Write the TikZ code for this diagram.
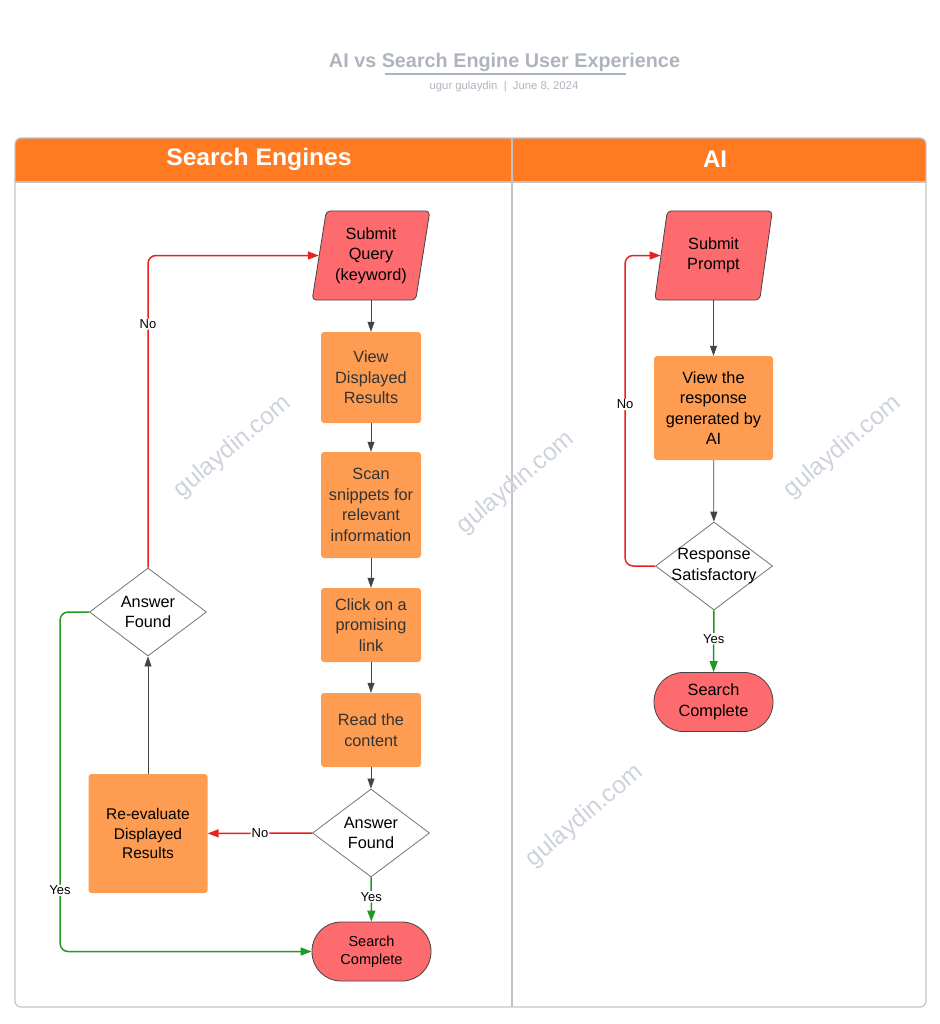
\documentclass[tikz,border=0pt]{standalone}
\usepackage{fontspec}
\setmainfont{Liberation Sans}
\usetikzlibrary{shapes.geometric,arrows.meta}
\definecolor{hdr}{HTML}{FF7A21}
\definecolor{pinkf}{HTML}{FD6B6E}
\definecolor{orgf}{HTML}{FE9D52}
\definecolor{framec}{HTML}{C4C4C4}
\definecolor{titlec}{HTML}{AEB4BE}
\definecolor{redl}{HTML}{E8211F}
\definecolor{greenl}{HTML}{1E9A1E}
\definecolor{greyl}{HTML}{444444}
\definecolor{wm}{HTML}{CDD2DB}
\definecolor{txtd}{HTML}{333333}
\tikzset{
  base/.style={align=center, inner sep=0pt, font=\fontsize{16.3}{20.5}\selectfont},
  para/.style={base, trapezium, trapezium left angle=78.6, trapezium right angle=101.4,
     trapezium stretches=true, minimum width=118pt, minimum height=89pt,
     draw=greyl, fill=pinkf, rounded corners=4pt, line width=0.8pt},
  obox/.style={base, rectangle, fill=orgf, rounded corners=3pt, text=txtd},
  dia/.style={diamond, draw=black!55, fill=white, line width=0.8pt, inner sep=0pt,
     minimum width=117pt, minimum height=88pt},
  stad/.style={base, rectangle, draw=greyl, fill=pinkf, line width=0.8pt,
     minimum width=119pt, minimum height=59pt, rounded corners=29pt},
  gar/.style={draw=greyl, line width=0.7pt, -{Triangle[width=7pt,length=10pt]}},
  rar/.style={draw=redl, line width=1.5pt, -{Triangle[width=8pt,length=11pt]}, rounded corners=8pt},
  gnar/.style={draw=greenl, line width=1.5pt, -{Triangle[width=8pt,length=11pt]}, rounded corners=8pt},
  lbl/.style={fill=white, inner sep=1pt, font=\fontsize{13}{15}\selectfont, text=black},
  wmk/.style={rotate=40, text=wm, font=\fontsize{24.5}{28}\selectfont}
}
\begin{document}
\begin{tikzpicture}[x=1pt,y=-1pt]
\useasboundingbox (0,0) rectangle (939,1024);
% title
\node[text=titlec, font=\bfseries\fontsize{19.8}{23}\selectfont] (title) at (504.5,62) {AI vs Search Engine User Experience};
\draw[titlec, line width=1.3pt] (385,74) -- (626,74);
\node[text=titlec, font=\fontsize{11.3}{13}\selectfont] (sub) at (504,86.5) {ugur gulaydin \ \textbar\ \ June 8, 2024};
% frame and header
\fill[hdr] (15,182) {[rounded corners=6pt] -- (15,138) -- (926,138)} -- (926,182) -- cycle;
\draw[framec, line width=1.2pt, rounded corners=6pt] (15,138) rectangle (926,1007);
\draw[framec, line width=1.2pt] (15,182) -- (926,182);
\draw[framec, line width=1.2pt] (512,138) -- (512,1007);
\node[text=white, font=\bfseries\fontsize{24}{28}\selectfont, xscale=1.03] (h1) at (259,159.5) {Search Engines};
\node[text=white, font=\bfseries\fontsize{24}{28}\selectfont] (h2) at (715,159.5) {AI};
% watermarks
\node[wmk] (w1) at (233,447) {gulaydin.com};
\node[wmk] (w2) at (516,483) {gulaydin.com};
\node[wmk] (w3) at (843,447) {gulaydin.com};
\node[wmk] (w4) at (585,816) {gulaydin.com};
% left lane
\node[para] (sq) at (371,255.5) {Submit\\Query\\(keyword)};
\node[obox, minimum width=100pt, minimum height=91pt] (vd) at (371,377.5) {View\\Displayed\\Results};
\node[obox, minimum width=100pt, minimum height=106pt] (sc1) at (371,505) {Scan\\snippets for\\relevant\\information};
\node[obox, minimum width=100pt, minimum height=74pt] (cl) at (371,625) {Click on a\\promising\\link};
\node[obox, minimum width=100pt, minimum height=74pt] (rc) at (371,730) {Read the\\content};
\node[dia, label={[base]center:Answer\\Found}] (ad1) at (371,833) {};
\node[stad, font=\fontsize{14.5}{18}\selectfont] (se) at (371.5,951.5) {Search\\Complete};
\node[obox, minimum width=119pt, minimum height=119pt, font=\fontsize{15.5}{19.5}\selectfont, text=black] (re) at (148,833.5) {Re-evaluate\\Displayed\\Results};
\node[dia, label={[base]center:Answer\\Found}] (ad2) at (148,612) {};
\draw[gar] (sq.center |- sq.south) -- (vd);
\draw[gar] (vd) -- (sc1);
\draw[gar] (sc1) -- (cl);
\draw[gar] (cl) -- (rc);
\draw[gar] (rc) -- (ad1);
\draw[gnar] (ad1) -- node[lbl, pos=0.44] (ly1) {Yes} (se);
\draw[rar] (ad1) -- node[lbl, pos=0.5] (ln1) {No} (re);
\draw[gar] (re) -- (ad2);
\draw[rar] (ad2.north) |- node[lbl, pos=0.39] (ln2) {No} (sq.west);
\draw[gnar] (ad2.west) -- ++(-29,0) |- node[lbl, pos=0.41] (ly2) {Yes} (se.west);
% right lane
\node[para] (sp) at (713.5,255.5) {Submit\\Prompt};
\node[obox, minimum width=119pt, minimum height=104pt, text=black] (vr) at (713.5,408) {View the\\response\\generated by\\AI};
\node[dia, label={[base]center:Response\\Satisfactory}] (rs) at (714,566) {};
\node[stad] (se2) at (713.5,702) {Search\\Complete};
\draw[gar] (sp.center |- sp.south) -- (vr);
\draw[gar] (vr) -- (rs);
\draw[gnar] (rs) -- node[lbl, pos=0.46] (ly3) {Yes} (se2);
\draw[rar] (rs.west) -- ++(-30,0) |- node[lbl, pos=0.26] (ln3) {No} (sp.west);
\end{tikzpicture}
\end{document}
